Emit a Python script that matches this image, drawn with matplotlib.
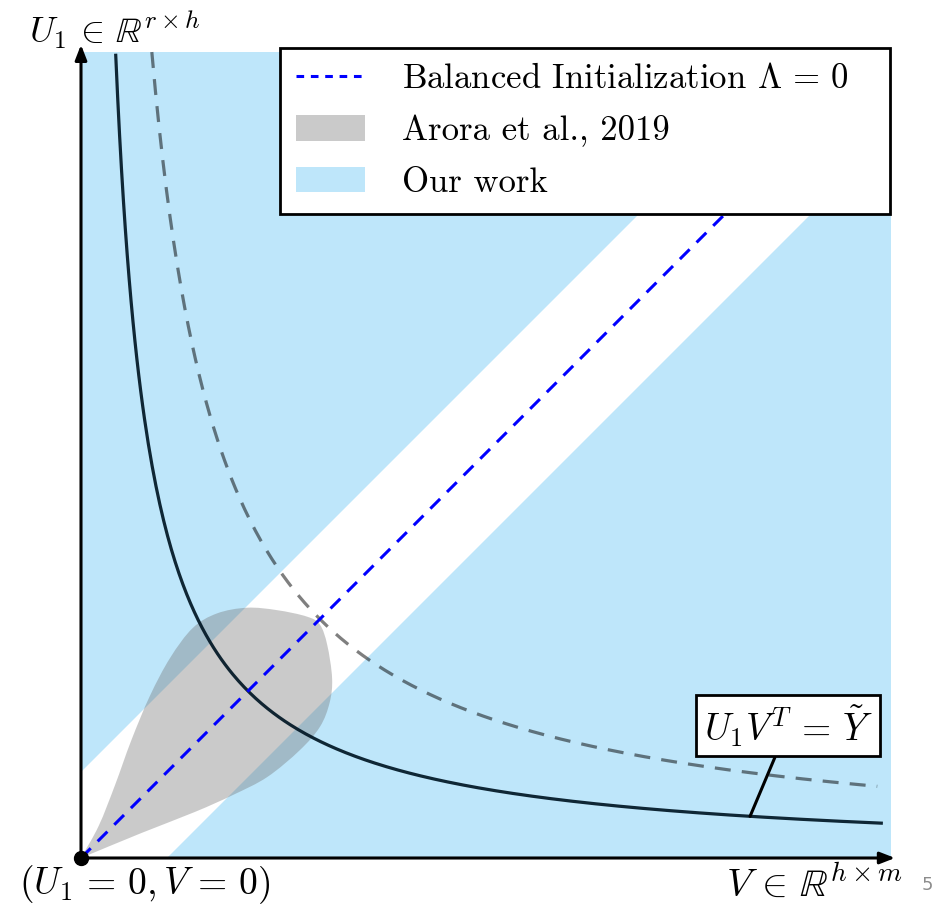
import numpy as np
import matplotlib
matplotlib.use('Agg')
import matplotlib.pyplot as plt
from matplotlib.path import Path
from matplotlib.patches import PathPatch, Patch, Polygon
from matplotlib.lines import Line2D

plt.rcParams['mathtext.fontset'] = 'cm'
plt.rcParams['font.family'] = ['cmr10', 'DejaVu Sans']
plt.rcParams['axes.unicode_minus'] = False

# --- data (axis units, 0..10) ---
c_target = 4.25          # U1 V^T = Y~ (solid hyperbola)
c_dashed = 8.7           # dashed hyperbola
band_half = 1.06         # half-width of white band around the diagonal
region_top = 9.95
region_right = 10.0

# Arora et al. teardrop outline (tip at origin, counter-clockwise)
arora_x = [0.0, 0.75, 1.41, 1.88, 2.30, 2.70, 2.95, 3.07, 3.10, 3.04, 2.95, 2.79,
           2.42, 2.05, 1.68, 1.38, 1.10, 0.85, 0.62, 0.42, 0.22]
arora_y = [0.0, 0.31, 0.57, 0.78, 1.00, 1.33, 1.62, 1.92, 2.22, 2.63, 2.88, 2.98,
           3.06, 3.09, 3.02, 2.84, 2.47, 2.00, 1.45, 0.90, 0.40]

legend_labels = [r'Balanced Initialization $\Lambda\,=\,0$', 'Arora et al., 2019', 'Our work']

blue = '#bee6fa'
gray_fill = '#6e6e6e'


def smooth_closed(xs, ys):
    """Catmull-Rom through the outline, sharp corner at the first point."""
    pts = np.column_stack([xs, ys])
    n = len(pts)
    verts = [pts[0]]
    codes = [Path.MOVETO]
    for i in range(n):
        p0, p1, p2, p3 = pts[i - 1], pts[i], pts[(i + 1) % n], pts[(i + 2) % n]
        c1 = p1 + (p2 - p0) / 6.0
        c2 = p2 - (p3 - p1) / 6.0
        if i == 0:
            c1 = p1 + (p2 - p1) / 3.0
        if (i + 1) % n == 0:
            c2 = p2 + (p1 - p2) / 3.0
        verts += [c1, c2, p2]
        codes += [Path.CURVE4] * 3
    return Path(verts, codes)


fig = plt.figure(figsize=(9.49, 9.07), dpi=100)
ax = fig.add_axes([0, 0, 1, 1])
ax.set_xlim(-81 / 81, (949 - 81) / 81)
ax.set_ylim(-49 / 81, (907 - 49) / 81)
ax.axis('off')

# our work: square minus the diagonal band
ax.add_patch(Polygon([(0, band_half), (0, region_top), (region_top - band_half, region_top)],
                     closed=True, facecolor=blue, edgecolor='none', zorder=1))
ax.add_patch(Polygon([(band_half, 0), (region_right, 0), (region_right, region_right - band_half)],
                     closed=True, facecolor=blue, edgecolor='none', zorder=1))

# Arora et al. region
ax.add_patch(PathPatch(smooth_closed(arora_x, arora_y), facecolor=gray_fill, alpha=0.36,
                       edgecolor='none', zorder=2))

# hyperbolas
v = np.linspace(c_target / 9.91, 9.88, 400)
ax.plot(v, c_target / v, color='#001624', alpha=0.92, lw=2.3, zorder=3)
v2 = np.linspace(c_dashed / region_top, 9.83, 400)
ax.plot(v2, c_dashed / v2, color='black', alpha=0.5, lw=2.3, dashes=(5, 3.5), zorder=3)

# balanced initialization
ax.plot([0, 10], [0, 10], color='#0000ff', lw=2.2, dashes=(4.5, 3.2), zorder=4)

# axes arrows
arr = dict(arrowstyle='-|>,head_length=0.9,head_width=0.35', color='black', lw=2.2,
           shrinkA=0, shrinkB=0)
ax.annotate('', xy=(10.05, 0), xytext=(0, 0), arrowprops=arr, zorder=5)
ax.annotate('', xy=(0, 10.04), xytext=(0, 0), arrowprops=arr, zorder=5)
ax.plot([0], [0], 'o', color='black', ms=10, zorder=6)

ax.text(0.42, 10.22, r'$U_1 \,\in\, \mathbb{R}^{r\times h}$', fontsize=26, ha='center', va='center')
ax.text(9.05, -0.33, r'$V \,\in\, \mathbb{R}^{h\times m}$', fontsize=28, ha='center', va='center')
ax.text(0.79, -0.33, r'$(U_1\,=\,0, V\,=\,0)$', fontsize=27, ha='center', va='center')
ax.text(10.45, -0.33, '5', fontsize=13, color='#8c8c8c', family='DejaVu Sans',
        ha='center', va='center')

# annotation of the target curve
xa = 8.26
ax.annotate(r'$U_1V^T\,=\,\tilde{Y}$', xy=(xa, c_target / xa), xytext=(8.73, 1.63),
            fontsize=27, ha='center', va='center',
            bbox=dict(boxstyle='square,pad=0.2', fc='white', ec='black', lw=2),
            arrowprops=dict(arrowstyle='-', color='black', lw=2.2, shrinkA=0, shrinkB=0),
            zorder=7)

handles = [Line2D([], [], color='#0000ff', lw=2.2, dashes=(2.5, 2.2)),
           Patch(facecolor=gray_fill, alpha=0.36, edgecolor='none'),
           Patch(facecolor=blue, edgecolor='none')]
leg = ax.legend(handles, legend_labels, loc='upper left', mode='expand',
                bbox_to_anchor=(280 / 949, 1 - 48 / 907 - 0.01, 610 / 949, 0.01),
                bbox_transform=fig.transFigure,
                fontsize=25, frameon=True, fancybox=False, framealpha=1, edgecolor='black',
                borderaxespad=0, handlelength=2.0, handleheight=0.75, labelspacing=0.56,
                borderpad=0.45, handletextpad=1.05)
leg.get_frame().set_linewidth(2)
leg.set_zorder(10)

fig.savefig('out.png', dpi=100)
